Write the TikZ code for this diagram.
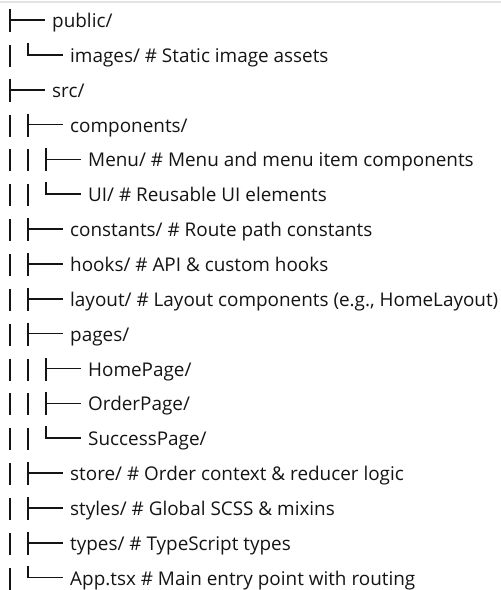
\documentclass[tikz,border=0pt]{standalone}
\usepackage{fontspec}
\setmainfont{Open Sans}
\usepackage{tikz}
\usetikzlibrary{calc}
\definecolor{inkgray}{HTML}{141414}
\definecolor{rulegray}{HTML}{E4E4E4}
\newcommand\entryfont{\fontsize{18.9}{20}\selectfont}
\tikzset{
  entry/.style={anchor=base west, inner sep=0pt, font=\entryfont, text=inkgray},
  branch/.style={line width=1.6pt, draw=inkgray},
}

\begin{document}
\begin{tikzpicture}[x=1pt, y=-1pt]
  \useasboundingbox (0,0) rectangle (501,590);
  \draw[rulegray, line width=1.5pt] (0,2) -- (501,2);
  % level 1 at x=52, level 2 at x=70, level 3 at x=88; rows 34.85 apart
  \node[entry] (public) at (52,27.5) {public/};
  \node[entry] (images) at (70,62.35) {images/ \# Static image assets};
  \node[entry] (src) at (52,97.2) {src/};
  \node[entry] (components) at (70,132.05) {components/};
  \node[entry] (menu) at (88,166.9) {Menu/ \# Menu and menu item components};
  \node[entry] (ui) at (88,201.75) {UI/ \# Reusable UI elements};
  \node[entry] (constants) at (70,236.6) {constants/ \# Route path constants};
  \node[entry] (hooks) at (70,271.45) {hooks/ \# API \& custom hooks};
  \node[entry] (layout) at (70,306.3) {layout/ \# Layout components (e.g., HomeLayout)};
  \node[entry] (pages) at (70,341.15) {pages/};
  \node[entry] (home) at (88,376) {HomePage/};
  \node[entry] (order) at (88,410.85) {OrderPage/};
  \node[entry] (success) at (88,445.7) {SuccessPage/};
  \node[entry] (store) at (70,480.55) {store/ \# Order context \& reducer logic};
  \node[entry] (styles) at (70,515.4) {styles/ \# Global SCSS \& mixins};
  \node[entry] (types) at (70,550.25) {types/ \# TypeScript types};
  \node[entry] (app) at (70,585.1) {App.tsx \# Main entry point with routing};
  % tees
  \foreach \n in {public,src,components,menu,constants,hooks,layout,pages,home,order,store,styles,types}
    \draw[branch] ([shift={(-42,-18.5)}]\n.base west) -- ++(0,23)
                  ([shift={(-42,-7.5)}]\n.base west) -- ++(35,0);
  % elbows
  \foreach \n in {images,ui,success,app}
    \draw[branch] ([shift={(-42,-19.5)}]\n.base west) |- ++(35,12);
  % bars of the open parents
  \foreach \n in {images,components,constants,hooks,layout,pages,store,styles,types,app}
    \draw[branch] ([shift={(-60,-17.5)}]\n.base west) -- ++(0,22);
  \foreach \n in {menu,ui,home,order,success}
    \draw[branch] ([shift={(-78,-17.5)}]\n.base west) -- ++(0,22)
                  ([shift={(-60,-17.5)}]\n.base west) -- ++(0,22);
\end{tikzpicture}
\end{document}
